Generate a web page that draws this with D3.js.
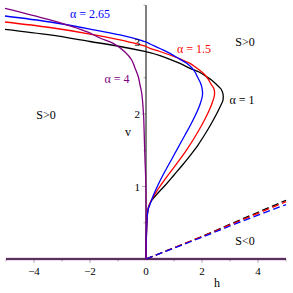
<!DOCTYPE html>
<html>
<head>
<meta charset="utf-8">
<script src="https://cdn.jsdelivr.net/npm/d3@7"></script>
<style>
    body { margin: 0; background: #fff; }
    text { font-family: "Liberation Serif", "DejaVu Serif", serif; }
</style>
</head>
<body>
<div id="chart"></div>
<script>
// curves S = 0 in the (h, v) plane
let alphas = ["1", "1.5", "2.65", "4"];
let colors = ["#000000", "#ff0000", "#0000ff", "#800080"];

let hAlpha1 = [0, 0.011, 0.036, 0.089, 0.214, 0.429, 0.696, 1.0, 1.304, 1.589, 1.857, 2.089, 2.304, 2.5, 2.643, 2.75, 2.75, 2.679, 2.536, 2.339, 2.168, 1.893, 1.571, 1.214, 0.857, 0.5, 0.143, 0, -0.929, -2.0, -3.429, -5.036];
let vAlpha1 = [0, 0.262, 0.538, 0.717, 0.814, 0.910, 1.021, 1.159, 1.297, 1.434, 1.572, 1.710, 1.848, 1.986, 2.097, 2.193, 2.276, 2.345, 2.4, 2.469, 2.514, 2.579, 2.630, 2.697, 2.754, 2.804, 2.846, 2.859, 2.931, 3.0, 3.090, 3.168];

let hAlpha15 = [0, 0.011, 0.036, 0.082, 0.196, 0.411, 0.661, 0.929, 1.196, 1.446, 1.679, 1.893, 2.089, 2.261, 2.375, 2.446, 2.429, 2.321, 2.214, 2.107, 1.982, 1.786, 1.571, 1.214, 0.857, 0.5, 0.143, 0, -0.929, -2.0, -3.429, -5.036];
let vAlpha15 = [0, 0.262, 0.538, 0.703, 0.814, 0.952, 1.090, 1.228, 1.366, 1.503, 1.641, 1.779, 1.917, 2.055, 2.166, 2.262, 2.345, 2.414, 2.483, 2.538, 2.583, 2.641, 2.699, 2.759, 2.814, 2.862, 2.906, 2.931, 3.021, 3.103, 3.193, 3.269];

let hAlpha265 = [0, 0.011, 0.036, 0.071, 0.136, 0.268, 0.429, 0.607, 0.804, 1.0, 1.196, 1.393, 1.589, 1.768, 1.921, 2.018, 2.0, 1.946, 1.839, 1.75, 1.643, 1.454, 1.143, 0.857, 0.5, 0.143, 0, -0.929, -2.0, -3.429, -5.036];
let vAlpha265 = [0, 0.262, 0.538, 0.676, 0.745, 0.883, 1.021, 1.159, 1.297, 1.434, 1.572, 1.710, 1.848, 1.986, 2.124, 2.262, 2.359, 2.428, 2.510, 2.579, 2.634, 2.699, 2.772, 2.837, 2.903, 2.966, 2.993, 3.09, 3.172, 3.269, 3.352];

let hAlpha4 = [0, 0, 0, -0.018, -0.036, -0.071, -0.089, -0.154, -0.214, -0.275, -0.393, -0.511, -0.75, -1.168, -1.643, -2.118, -3.429, -5.036];
let vAlpha4 = [0, 0.4, 0.91, 1.2, 1.366, 1.821, 2.0, 2.29, 2.4, 2.514, 2.634, 2.745, 2.855, 2.975, 3.048, 3.135, 3.297, 3.458];

// dashed branches (S < 0 side)
let hDashed = [0, 2, 3, 4, 5];
let vDashed1 = [0, 0.31, 0.48, 0.645, 0.81];
let vDashed15 = [0, 0.31, 0.47, 0.63, 0.79];
let vDashed265 = [0, 0.30, 0.455, 0.605, 0.75];

let xTicks = [-4, -2, 0, 2, 4];
let xMinor = [-5, -3, -1, 1, 3, 5];
let yTicks = [1, 2, 3];
let yMinor = [0.5, 1.5, 2.5, 3.5];

let width = 293, height = 293;

let x = d3.scaleLinear().domain([-5, 5]).range([6, 286]);
let y = d3.scaleLinear().domain([0, 3.5]).range([259, 5.25]);

let svg = d3.select("#chart").append("svg")
    .attr("width", width)
    .attr("height", height);

function pts(hs, vs) {
    return hs.map(function(h, i) { return [h, vs[i]]; });
}

let line = d3.line()
    .x(function(d) { return x(d[0]); })
    .y(function(d) { return y(d[1]); })
    .curve(d3.curveCatmullRom.alpha(0.5));

let straight = d3.line()
    .x(function(d) { return x(d[0]); })
    .y(function(d) { return y(d[1]); });

// ticks
let ticks = svg.append("g").attr("stroke", "#999").attr("stroke-width", 0.8);
ticks.selectAll("line.xt")
    .data(xTicks.concat(xMinor).filter(function(d) { return d !== 0; }))
    .enter().append("line")
    .attr("x1", function(d) { return x(d); })
    .attr("x2", function(d) { return x(d); })
    .attr("y1", y(0))
    .attr("y2", function(d) { return xTicks.indexOf(d) >= 0 ? y(0) + 4 : y(0) + 2.5; });
ticks.selectAll("line.yt")
    .data(yTicks.concat(yMinor))
    .enter().append("line")
    .attr("x1", x(0))
    .attr("x2", function(d) { return yTicks.indexOf(d) >= 0 ? x(0) - 4 : x(0) - 2.5; })
    .attr("y1", function(d) { return y(d); })
    .attr("y2", function(d) { return y(d); });

// purple branch on v = 0 under the h axis
svg.append("path")
    .attr("d", straight([[-5, 0], [5, 0]]))
    .attr("fill", "none")
    .attr("stroke", "#800080")
    .attr("stroke-width", 2.6)
    .attr("opacity", 0.6);

// axes
svg.append("line")
    .attr("x1", x(-5)).attr("x2", x(5))
    .attr("y1", y(0)).attr("y2", y(0))
    .attr("stroke", "#000").attr("stroke-width", 1.2);
svg.append("line")
    .attr("x1", x(0)).attr("x2", x(0))
    .attr("y1", y(0)).attr("y2", y(3.5))
    .attr("stroke", "#000").attr("stroke-width", 1);

// dashed lines
let dashed = [vDashed1, vDashed15, vDashed265];
svg.append("g").selectAll("path")
    .data(dashed)
    .enter().append("path")
    .attr("d", function(d) { return straight(pts(hDashed, d)); })
    .attr("fill", "none")
    .attr("stroke", function(d, i) { return colors[i]; })
    .attr("stroke-width", 1.3)
    .attr("stroke-dasharray", "7,3.5");

// solid curves
let curves = [pts(hAlpha1, vAlpha1), pts(hAlpha15, vAlpha15), pts(hAlpha265, vAlpha265), pts(hAlpha4, vAlpha4)];
svg.append("g").selectAll("path")
    .data(curves)
    .enter().append("path")
    .attr("d", function(d) { return line(d); })
    .attr("fill", "none")
    .attr("stroke", function(d, i) { return colors[i]; })
    .attr("stroke-width", 1.3);

// tick labels
svg.append("g").selectAll("text")
    .data(xTicks)
    .enter().append("text")
    .attr("x", function(d) { return x(d); })
    .attr("y", 275)
    .attr("text-anchor", "middle")
    .attr("font-size", 11)
    .text(function(d) { return d < 0 ? "\u2212" + Math.abs(d) : d; });
svg.append("g").selectAll("text")
    .data(yTicks)
    .enter().append("text")
    .attr("x", x(0) - 6)
    .attr("y", function(d) { return y(d) + 4; })
    .attr("text-anchor", "end")
    .attr("font-size", 11)
    .text(function(d) { return d; });

// axis names
svg.append("text").attr("x", 217).attr("y", 287).attr("text-anchor", "middle").attr("font-size", 12).text("h");
svg.append("text").attr("x", 128).attr("y", 136).attr("text-anchor", "middle").attr("font-size", 12).text("v");

// annotations
let notes = [
    {t: "\u03b1 = 2.65", px: 90, py: 18, c: colors[2]},
    {t: "\u03b1 = 4", px: 117, py: 83, c: colors[3]},
    {t: "\u03b1 = 1.5", px: 194, py: 53, c: colors[1]},
    {t: "\u03b1 = 1", px: 242, py: 104, c: colors[0]},
    {t: "S>0", px: 46, py: 119, c: "#000"},
    {t: "S>0", px: 245, py: 46, c: "#000"},
    {t: "S<0", px: 245, py: 245, c: "#000"}
];
svg.append("g").selectAll("text")
    .data(notes)
    .enter().append("text")
    .attr("x", function(d) { return d.px; })
    .attr("y", function(d) { return d.py; })
    .attr("text-anchor", "middle")
    .attr("font-size", 12)
    .attr("fill", function(d) { return d.c; })
    .text(function(d) { return d.t; });
</script>
</body>
</html>
